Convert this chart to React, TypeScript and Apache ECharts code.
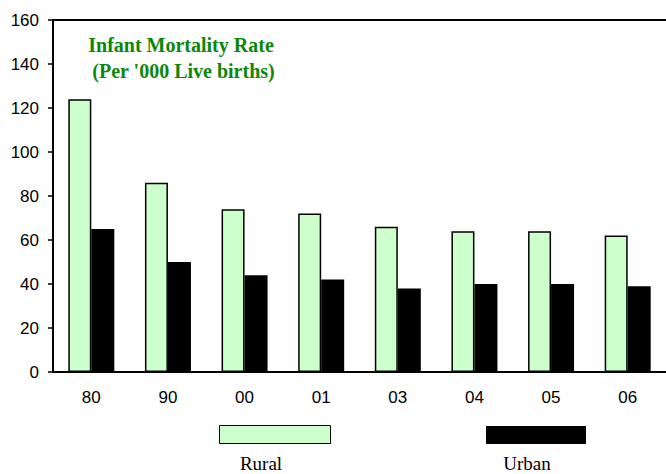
import React, { useEffect, useRef } from "react";
import * as echarts from "echarts";

const categories = ["80", "90", "00", "01", "03", "04", "05", "06"];
const rural = [124, 86, 74, 72, 66, 64, 64, 62];
const urban = [65, 50, 44, 42, 38, 40, 40, 39];
const yTicks = { min: 0, max: 160, interval: 20 };

export default function App() {
  const ref = useRef<HTMLDivElement>(null);
  useEffect(() => {
    document.body.style.margin = "0";
    const chart = echarts.init(ref.current!, null, { renderer: "svg" });
    const axisFont = { fontFamily: "'Liberation Sans', Arial, sans-serif", fontSize: 17, color: "#000" };
    const serif = "19px 'Liberation Serif', 'Times New Roman', serif";
    chart.setOption({
      animation: false,
      title: {
        text: "Infant Mortality Rate\n (Per '000 Live births)",
        left: 181,
        top: 32,
        padding: 0,
        textAlign: "center",
        textStyle: {
          fontFamily: "'Liberation Serif', 'Times New Roman', serif",
          fontWeight: "bold",
          fontSize: 20,
          lineHeight: 26,
          color: "#0B870B",
        },
      },
      legend: [
        {
          data: ["Rural"],
          left: 219,
          top: 425,
          padding: 0,
          itemWidth: 111,
          itemHeight: 18,
          icon: "rect",
          formatter: () => "",
          selectedMode: false,
          itemStyle: { borderColor: "#000", borderWidth: 1 },
        },
        {
          data: ["Urban"],
          left: 486,
          top: 426,
          padding: 0,
          itemWidth: 100,
          itemHeight: 18,
          icon: "rect",
          formatter: () => "",
          selectedMode: false,
        },
      ],
      graphic: [
        {
          type: "text",
          x: 261,
          y: 463,
          style: { text: "Rural", font: serif, fill: "#000", align: "center", verticalAlign: "middle" },
        },
        {
          type: "text",
          x: 527,
          y: 463,
          style: { text: "Urban", font: serif, fill: "#000", align: "center", verticalAlign: "middle" },
        },
      ],
      grid: { left: 53, top: 20, right: -11, bottom: 102, containLabel: false },
      xAxis: [
        {
          type: "category",
          data: categories,
          axisLine: { lineStyle: { color: "#000", width: 2 } },
          axisTick: { show: false },
          axisLabel: { ...axisFont, margin: 17 },
        },
        {
          type: "category",
          position: "top",
          data: categories,
          axisLine: { lineStyle: { color: "#000", width: 2 } },
          axisTick: { show: false },
          axisLabel: { show: false },
        },
      ],
      yAxis: {
        type: "value",
        min: yTicks.min,
        max: yTicks.max,
        interval: yTicks.interval,
        axisLine: { show: true, lineStyle: { color: "#000", width: 2 } },
        axisTick: { show: true, length: 5, lineStyle: { color: "#000", width: 1.5 } },
        axisLabel: { ...axisFont, margin: 14 },
        splitLine: { show: false },
      },
      series: [
        {
          name: "Rural",
          type: "bar",
          data: rural,
          barWidth: 23,
          barGap: "0%",
          itemStyle: { color: "#CCFFCC", borderColor: "#000", borderWidth: 1.5 },
        },
        {
          name: "Urban",
          type: "bar",
          data: urban,
          barWidth: 23,
          itemStyle: { color: "#000" },
        },
      ],
    });
    return () => chart.dispose();
  }, []);
  return <div ref={ref} style={{ width: 666, height: 474 }} />;
}
